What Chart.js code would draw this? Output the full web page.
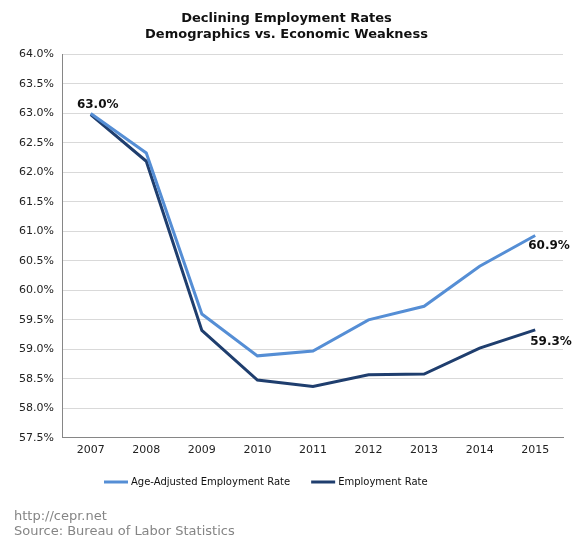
<!DOCTYPE html>
<html>
<head>
<meta charset="utf-8">
<script src="https://cdn.jsdelivr.net/npm/chart.js@4/dist/chart.umd.min.js"></script>
<style>
  body { margin: 0; background: #fff; }
  #wrap { width: 575px; height: 545px; }
</style>
</head>
<body>
<div id="wrap"><canvas id="chart" width="575" height="545"></canvas></div>
<script>
const years = ["2007", "2008", "2009", "2010", "2011", "2012", "2013", "2014", "2015"];
const ageAdjusted = [63.0, 62.33, 59.6, 58.89, 58.97, 59.5, 59.73, 60.41, 60.93];
const employment = [62.98, 62.19, 59.32, 58.48, 58.37, 58.57, 58.58, 59.02, 59.33];
const titleLines = ["Declining Employment Rates", "Demographics vs. Economic Weakness"];
const footerLines = ["http://cepr.net", "Source: Bureau of Labor Statistics"];

const lightBlue = "#558ed5";
const darkBlue = "#1f3e6e";

// labels on the first and last points
const pointLabels = {
  id: "pointLabels",
  afterDatasetsDraw(chart) {
    const ctx = chart.ctx;
    ctx.save();
    ctx.font = "bold 12px 'DejaVu Sans'";
    ctx.fillStyle = "#111";
    ctx.textBaseline = "middle";

    const dark = chart.getDatasetMeta(1).data;
    const light = chart.getDatasetMeta(0).data;

    ctx.textAlign = "center";
    ctx.fillText(employment[0].toFixed(1) + "%", dark[0].x + 7, dark[0].y - 10);

    ctx.textAlign = "left";
    const l = light[light.length - 1];
    ctx.fillText(ageAdjusted[ageAdjusted.length - 1].toFixed(1) + "%", l.x - 7, l.y + 10);
    const d = dark[dark.length - 1];
    ctx.fillText(employment[employment.length - 1].toFixed(1) + "%", d.x - 5, d.y + 12);
    ctx.restore();
  }
};

// legend and source notes under the plot
const bottomText = {
  id: "bottomText",
  afterDraw(chart) {
    const ctx = chart.ctx;
    ctx.save();
    ctx.font = "10px 'DejaVu Sans'";
    ctx.textBaseline = "middle";
    const lineW = 24, gap = 3, between = 21;
    let x = 104;
    const y = 482;
    chart.data.datasets.forEach((ds) => {
      ctx.strokeStyle = ds.borderColor;
      ctx.lineWidth = 3;
      ctx.beginPath();
      ctx.moveTo(x, y);
      ctx.lineTo(x + lineW, y);
      ctx.stroke();
      x += lineW + gap;
      ctx.fillStyle = "#111";
      ctx.textAlign = "left";
      ctx.fillText(ds.label, x, y);
      x += ctx.measureText(ds.label).width + between;
    });

    ctx.font = "13px 'DejaVu Sans'";
    ctx.fillStyle = "#858585";
    ctx.fillText(footerLines[0], 14, 517);
    ctx.fillText(footerLines[1], 14, 532);
    ctx.restore();
  }
};

new Chart(document.getElementById("chart").getContext("2d"), {
  type: "line",
  data: {
    labels: years,
    datasets: [
      {
        label: "Age-Adjusted Employment Rate",
        data: ageAdjusted,
        borderColor: lightBlue,
        backgroundColor: lightBlue,
        borderWidth: 3,
        pointRadius: 0,
        tension: 0
      },
      {
        label: "Employment Rate",
        data: employment,
        borderColor: darkBlue,
        backgroundColor: darkBlue,
        borderWidth: 3,
        pointRadius: 0,
        tension: 0
      }
    ]
  },
  options: {
    responsive: false,
    animation: false,
    layout: { padding: { left: 10, right: 12, top: 0, bottom: 82 } },
    plugins: {
      title: {
        display: true,
        text: titleLines,
        color: "#111",
        font: { family: "DejaVu Sans", size: 13, weight: "bold", lineHeight: 1.25 },
        padding: { top: 10, bottom: 12 }
      },
      legend: { display: false },
      tooltip: { enabled: false }
    },
    scales: {
      x: {
        offset: true,
        grid: { display: false, drawTicks: false },
        border: { display: true, color: "#868686", width: 1 },
        ticks: {
          color: "#222",
          font: { family: "DejaVu Sans", size: 11 },
          padding: 6
        }
      },
      y: {
        min: 57.5,
        max: 64,
        grid: { color: "#d9d9d9", drawTicks: false },
        border: { display: true, color: "#868686", width: 1 },
        ticks: {
          stepSize: 0.5,
          color: "#222",
          font: { family: "DejaVu Sans", size: 11 },
          padding: 9,
          callback: (v) => v.toFixed(1) + "%"
        }
      }
    }
  },
  plugins: [pointLabels, bottomText]
});
</script>
</body>
</html>
